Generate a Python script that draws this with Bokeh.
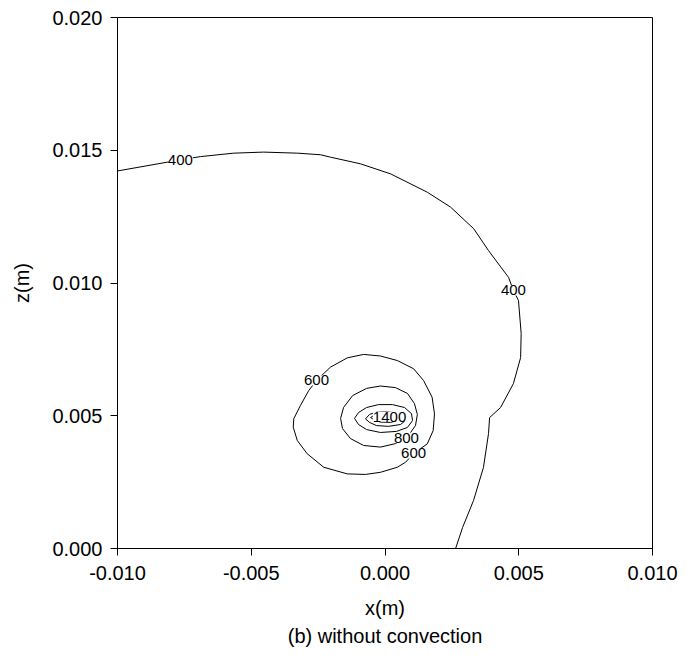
import numpy as np
from bokeh.plotting import figure
from bokeh.models import Label, Title, PrintfTickFormatter, FixedTicker, Range1d
from bokeh.embed import file_html
from bokeh.resources import INLINE

# axis ticks (m)
x_ticks = [-0.010, -0.005, 0.000, 0.005, 0.010]
z_ticks = [0.000, 0.005, 0.010, 0.015, 0.020]

# contour lines, in mm
c400_x = [-10.00, -7.64, -6.90, -5.66, -4.54, -3.27, -2.41, -2.04, -0.92, 0.21, 1.58, 2.45,
          3.32, 3.87, 4.62, 4.80, 4.99, 5.09, 5.07, 4.80, 4.32, 3.91, 3.87, 3.68, 3.31,
          2.90, 2.64]
c400_z = [14.22, 14.64, 14.76, 14.89, 14.93, 14.89, 14.83, 14.74, 14.49, 14.11, 13.42, 12.86,
          12.04, 11.22, 10.21, 9.72, 9.34, 8.10, 7.19, 6.21, 5.31, 4.93, 4.33, 3.05, 1.81,
          0.79, 0.00]

c600_x = [-2.56, -2.04, -1.41, -0.80, -0.17, 0.46, 1.07, 1.44, 1.76, 1.85, 1.80, 1.58, 1.07,
          0.77, 0.46, -0.17, -0.73, -1.41, -2.29, -2.91, -3.28, -3.43, -3.41, -3.16, -2.85, -2.56]
c600_z = [6.33, 6.83, 7.18, 7.31, 7.25, 7.08, 6.77, 6.33, 5.70, 5.07, 4.44, 3.94, 3.58,
          3.25, 3.06, 2.87, 2.79, 2.81, 3.06, 3.57, 4.07, 4.57, 4.89, 5.39, 5.95, 6.33]

c800_x = [-1.66, -1.55, -1.21, -0.69, -0.17, 0.39, 0.84, 1.10, 1.21, 1.14, 0.88, 0.39, -0.17,
          -0.80, -1.29, -1.59, -1.66]
c800_z = [4.90, 5.31, 5.76, 6.03, 6.12, 6.06, 5.84, 5.46, 5.05, 4.63, 4.26, 3.95, 3.82,
          3.88, 4.14, 4.52, 4.90]

c1000_x = [-1.14, -0.99, -0.69, -0.24, 0.28, 0.73, 0.99, 1.03, 0.84, 0.43, -0.17, -0.69, -0.99, -1.14]
c1000_z = [4.90, 5.12, 5.31, 5.42, 5.42, 5.31, 5.08, 4.82, 4.56, 4.41, 4.37, 4.48, 4.67, 4.90]

c1200_x = [-0.73, -0.58, -0.32, 0.06, 0.47, 0.73, 0.77, 0.58, 0.13, -0.32, -0.58, -0.73]
c1200_z = [4.88, 5.05, 5.14, 5.16, 5.10, 4.97, 4.82, 4.67, 4.60, 4.63, 4.75, 4.88]

c1400_x = [-0.54, -0.39, -0.09, 0.28, 0.50, 0.47, 0.21, -0.17, -0.39, -0.54]
c1400_z = [4.93, 5.03, 5.07, 5.05, 4.95, 4.82, 4.75, 4.76, 4.84, 4.93]

# contour labels (text, x mm, z mm)
label_text = ["400", "400", "600", "600", "800", "1400"]
label_x = [-7.65, 4.80, -2.56, 1.07, 0.80, 0.17]
label_z = [14.65, 9.72, 6.33, 3.58, 4.18, 4.97]

FONT = "Liberation Sans"

p = figure(width=696, height=663, output_backend="svg", toolbar_location=None,
           x_range=Range1d(-0.010, 0.010), y_range=Range1d(0.0, 0.020),
           min_border_left=117, min_border_right=44, min_border_top=17, min_border_bottom=115)
p.background_fill_color = "white"
p.border_fill_color = "white"
p.outline_line_color = "black"
p.outline_line_width = 1
p.grid.visible = False

for xs, zs in [(c400_x, c400_z), (c600_x, c600_z), (c800_x, c800_z),
               (c1000_x, c1000_z), (c1200_x, c1200_z), (c1400_x, c1400_z)]:
    p.line(np.array(xs) / 1000.0, np.array(zs) / 1000.0, line_color="black", line_width=1)

for t, lx, lz in zip(label_text, label_x, label_z):
    p.add_layout(Label(x=lx / 1000.0, y=lz / 1000.0, text=t, text_align="center",
                       text_baseline="middle", text_font=FONT, text_font_size="15px",
                       text_color="black", background_fill_color="white"))

for ax in (p.xaxis[0], p.yaxis[0]):
    ax.formatter = PrintfTickFormatter(format="%.3f")
    ax.major_label_text_font = FONT
    ax.major_label_text_font_size = "20px"
    ax.major_label_text_color = "black"
    ax.axis_label_text_font = FONT
    ax.axis_label_text_font_size = "20px"
    ax.axis_label_text_font_style = "normal"
    ax.axis_label_text_color = "black"
    ax.major_tick_out = 7
    ax.major_tick_in = 0
    ax.minor_tick_out = 0
    ax.minor_tick_in = 0
    ax.axis_line_color = "black"
    ax.major_tick_line_color = "black"

p.xaxis[0].ticker = FixedTicker(ticks=x_ticks)
p.yaxis[0].ticker = FixedTicker(ticks=z_ticks)
p.xaxis[0].axis_label = "x(m)"
p.yaxis[0].axis_label = "z(m)"
p.xaxis[0].major_label_standoff = 10
p.yaxis[0].major_label_standoff = 8
p.xaxis[0].axis_label_standoff = 14
p.yaxis[0].axis_label_standoff = 16

p.add_layout(Title(text="(b) without convection", align="center", text_font=FONT,
                   text_font_size="20px", text_font_style="normal", text_color="black",
                   standoff=2), "below")

open("out.html", "w").write(file_html(p, INLINE))
